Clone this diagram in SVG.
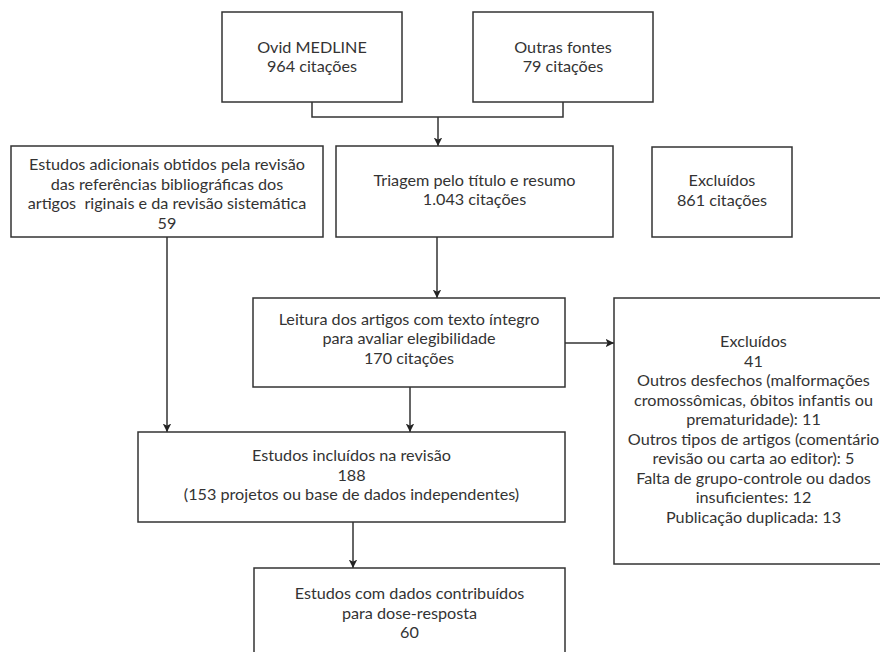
<svg xmlns="http://www.w3.org/2000/svg" width="880" height="652" viewBox="0 0 880 652">
<style>
rect.box{fill:#fff;stroke:#333;stroke-width:1.5}
text{font-family:Lato,"Noto Sans","Liberation Sans",sans-serif;font-size:16.2px;fill:#333;text-anchor:middle}
.conn path{fill:none;stroke:#333;stroke-width:1.5}
</style>
<defs>
<marker id="ah" viewBox="0 0 10 10" refX="10" refY="5" markerWidth="8.5" markerHeight="8.5" markerUnits="userSpaceOnUse" orient="auto">
<path d="M0,0 L10,5 L0,10 L2.5,5 Z" fill="#222"/>
</marker>
</defs>
<rect width="880" height="652" fill="#fff"/>
<g class="conn">
<path d="M312,102 V117 H563 V102"/>
<path d="M438,117 V146" marker-end="url(#ah)"/>
<path d="M437,237 V298" marker-end="url(#ah)"/>
<path d="M565,343 H614" marker-end="url(#ah)"/>
<path d="M410,387 V432" marker-end="url(#ah)"/>
<path d="M167,237 V432" marker-end="url(#ah)"/>
<path d="M353,522 V568" marker-end="url(#ah)"/>
</g>
<g id="ovid"><rect class="box" x="222" y="12" width="180" height="90"/>
<text x="312" y="52.5">Ovid MEDLINE</text><text x="312" y="72">964 citações</text></g>
<g id="outras"><rect class="box" x="473" y="12" width="180" height="90"/>
<text x="563" y="52.5">Outras fontes</text><text x="563" y="72">79 citações</text></g>
<g id="adicionais"><rect class="box" x="11" y="146" width="312" height="91"/>
<text x="167" y="170">Estudos adicionais obtidos pela revisão</text>
<text x="167" y="189.5">das referências bibliográficas dos</text>
<text x="167" y="209" xml:space="preserve">artigos  riginais e da revisão sistemática</text>
<text x="167" y="228.5">59</text></g>
<g id="triagem"><rect class="box" x="336" y="146" width="277" height="91"/>
<text x="474.5" y="185.5">Triagem pelo título e resumo</text>
<text x="474.5" y="205">1.043 citações</text></g>
<g id="excl861"><rect class="box" x="652" y="147" width="140" height="90"/>
<text x="722" y="186">Excluídos</text>
<text x="722" y="205.5">861 citações</text></g>
<g id="leitura"><rect class="box" x="253" y="298" width="312" height="89"/>
<text x="409" y="324.5">Leitura dos artigos com texto íntegro</text>
<text x="409" y="344">para avaliar elegibilidade</text>
<text x="409" y="363.5">170 citações</text></g>
<g id="excl41"><rect class="box" x="614" y="298" width="280" height="266"/>
<text x="753.5" y="347">Excluídos</text>
<text x="753.5" y="366.5">41</text>
<text x="753.5" y="386">Outros desfechos (malformações</text>
<text x="753.5" y="405.5">cromossômicas, óbitos infantis ou</text>
<text x="753.5" y="425">prematuridade): 11</text>
<text x="753.5" y="444.5">Outros tipos de artigos (comentário</text>
<text x="753.5" y="464">revisão ou carta ao editor): 5</text>
<text x="753.5" y="483.5">Falta de grupo-controle ou dados</text>
<text x="753.5" y="503">insuficientes: 12</text>
<text x="753.5" y="522.5">Publicação duplicada: 13</text></g>
<g id="incluidos"><rect class="box" x="138" y="432" width="427" height="90"/>
<text x="351.5" y="461">Estudos incluídos na revisão</text>
<text x="351.5" y="480.5">188</text>
<text x="351.5" y="500">(153 projetos ou base de dados independentes)</text></g>
<g id="dose"><rect class="box" x="254" y="568" width="311" height="90"/>
<text x="409.5" y="599">Estudos com dados contribuídos</text>
<text x="409.5" y="618.5">para dose-resposta</text>
<text x="409.5" y="638">60</text></g>
</svg>
